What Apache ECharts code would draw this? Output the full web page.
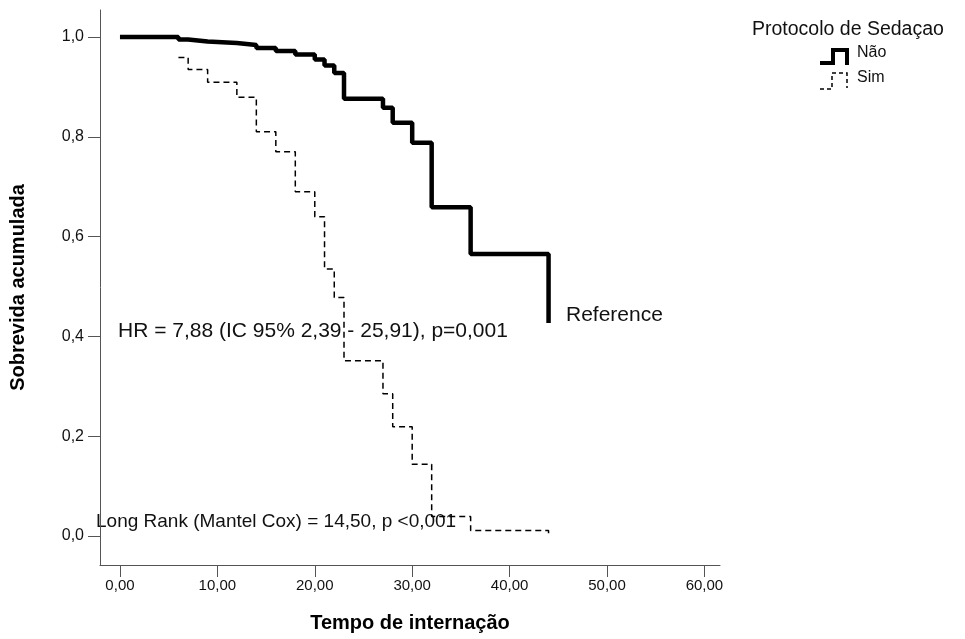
<!DOCTYPE html>
<html>
<head>
<meta charset="utf-8">
<script src="https://cdn.jsdelivr.net/npm/echarts@6/dist/echarts.min.js"></script>
<style>
  html, body { margin: 0; padding: 0; background: #fff; }
  #chart { width: 965px; height: 639px; }
</style>
</head>
<body>
<div id="chart"></div>
<script>
// Kaplan-Meier steps, [tempo, sobrevida]
var naoTimes = [0, 6, 7, 9, 12, 14, 16, 18, 20, 21, 22, 23, 27, 28, 30, 32, 36, 44];
var naoSurv = [1.0, 0.995, 0.991, 0.988, 0.984, 0.978, 0.972, 0.965, 0.955, 0.943, 0.928, 0.876, 0.858, 0.828, 0.788, 0.659, 0.565, 0.427];
var simTimes = [6, 7, 9, 12, 14, 16, 18, 20, 21, 22, 23, 27, 28, 30, 32, 36, 44];
var simSurv = [0.959, 0.935, 0.909, 0.879, 0.810, 0.770, 0.690, 0.640, 0.535, 0.478, 0.351, 0.285, 0.219, 0.144, 0.039, 0.011, 0.004];
var xTicks = [0, 10, 20, 30, 40, 50, 60];
var yTicks = [0, 0.2, 0.4, 0.6, 0.8, 1.0];

var FONT = '"Liberation Sans", Arial, sans-serif';

function pairs(xs, ys) {
  return xs.map(function (x, i) { return [x, ys[i]]; });
}

var chart = echarts.init(document.getElementById('chart'));
chart.setOption({
  animation: false,
  backgroundColor: '#fff',
  textStyle: { fontFamily: FONT },
  grid: { left: 100, top: 10, width: 620, height: 555, containLabel: false, outerBoundsMode: 'none' },
  xAxis: {
    type: 'value',
    min: -2.05,
    max: 61.6,
    name: 'Tempo de internação',
    nameLocation: 'middle',
    nameGap: 48,
    nameTextStyle: { fontFamily: FONT, fontSize: 20, fontWeight: 'bold', color: '#000' },
    axisLine: { show: true, onZero: false, lineStyle: { color: '#555', width: 1 } },
    axisTick: { show: true, length: 12, customValues: xTicks, lineStyle: { color: '#555' } },
    axisLabel: {
      customValues: xTicks,
      margin: 13,
      fontSize: 15,
      color: '#111',
      fontFamily: FONT,
      formatter: function (v) { return v.toFixed(2).replace('.', ','); }
    },
    splitLine: { show: false }
  },
  yAxis: {
    type: 'value',
    min: -0.058,
    max: 1.054,
    name: 'Sobrevida acumulada',
    nameLocation: 'middle',
    nameGap: 72,
    nameTextStyle: { fontFamily: FONT, fontSize: 20, fontWeight: 'bold', color: '#000' },
    axisLine: { show: true, onZero: false, lineStyle: { color: '#555', width: 1 } },
    axisTick: { show: true, length: 12, customValues: yTicks, lineStyle: { color: '#555' } },
    axisLabel: {
      customValues: yTicks,
      margin: 16,
      fontSize: 16,
      color: '#111',
      fontFamily: FONT,
      formatter: function (v) { return v.toFixed(1).replace('.', ','); }
    },
    splitLine: { show: false }
  },
  series: [
    {
      name: 'Não',
      type: 'line',
      step: 'end',
      showSymbol: false,
      lineStyle: { color: '#000', width: 4.5 },
      data: pairs(naoTimes, naoSurv),
      z: 3
    },
    {
      name: 'Sim',
      type: 'line',
      step: 'end',
      showSymbol: false,
      lineStyle: { color: '#000', width: 1.5, type: [6, 4] },
      data: pairs(simTimes, simSurv),
      z: 2
    }
  ],
  graphic: [
    { type: 'text', left: 118, top: 321, style: { text: 'HR = 7,88 (IC 95% 2,39 - 25,91), p=0,001', font: '21px ' + FONT, fill: '#111' } },
    { type: 'text', left: 566, top: 305, style: { text: 'Reference', font: '21px ' + FONT, fill: '#111' } },
    { type: 'text', left: 96, top: 512, style: { text: 'Long Rank (Mantel Cox) = 14,50, p <0,001', font: '19px ' + FONT, fill: '#111' } },
    { type: 'text', left: 752, top: 20, style: { text: 'Protocolo de Sedaçao', font: '19.5px ' + FONT, fill: '#111' } },
    { type: 'text', left: 857, top: 45, style: { text: 'Não', font: '16px ' + FONT, fill: '#111' } },
    { type: 'text', left: 857, top: 70, style: { text: 'Sim', font: '16px ' + FONT, fill: '#111' } },
    { type: 'polyline', shape: { points: [[820, 63], [833, 63], [833, 50], [847, 50], [847, 65]] }, style: { stroke: '#000', lineWidth: 4, fill: null } },
    { type: 'polyline', shape: { points: [[820, 89], [832, 89], [832, 73], [847, 73], [847, 88]] }, style: { stroke: '#000', lineWidth: 1.5, lineDash: [4, 3], fill: null } }
  ]
});
</script>
</body>
</html>
